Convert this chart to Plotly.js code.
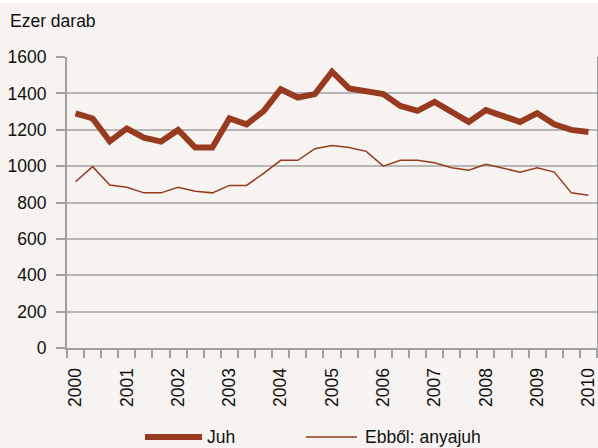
<!DOCTYPE html>
<html>
<head>
<meta charset="utf-8">
<script src="https://cdn.plot.ly/plotly-3.0.1.min.js"></script>
<style>
  html, body { margin: 0; padding: 0; background: #ffffff; }
  #chart { width: 598px; height: 445px; margin-top: 3px; }
</style>
</head>
<body>
<div id="chart"></div>
<script>
// Periods: three per year from 2000 to 2009, plus the first of 2010
const yearLabels = ["2000","2001","2002","2003","2004","2005","2006","2007","2008","2009","2010"];
const periodsPerYear = 3;
const juh = [1290,1262,1136,1207,1157,1135,1199,1102,1102,1262,1230,1303,1423,1377,1396,1519,1427,1409,1396,1331,1304,1353,1295,1243,1308,1273,1243,1291,1230,1199,1188];
const anyajuh = [914,997,896,884,853,853,884,862,853,894,894,960,1032,1032,1096,1114,1102,1081,1000,1032,1032,1019,991,978,1010,988,967,991,967,853,840];
const seriesNames = ["Juh", "Ebből: anyajuh"];
const yUnit = "Ezer darab";

const periodIdx = juh.map((_, i) => i);
const labelVals = yearLabels.map((_, i) => i * periodsPerYear);

const color = "#983a20";
const bg = "#f6f3f0";
const gridCol = "#b6b6b6";
const axisCol = "#a0a0a0";
const fontFam = "'Liberation Sans', Arial, sans-serif";
const fs = 17.5;

const lineWidths = [6, 1.5];
const traces = [juh, anyajuh].map((vals, k) => ({
  x: periodIdx, y: vals, name: seriesNames[k], type: "scatter", mode: "lines",
  line: { color: color, width: lineWidths[k] }, showlegend: false
}));

// plot area geometry in pixels (for legend placement in paper coords)
const plotW = 530, plotH = 291;
const px = v => (v - 67) / plotW;
const py = v => (348 - v) / plotH;

const legendItems = [
  { x0: 145, x1: 202, tx: 205 },
  { x0: 306, x1: 357, tx: 363 }
];
const legendY = 437;
const shapes = legendItems.map((it, k) => ({
  type: "line", xref: "paper", yref: "paper",
  x0: px(it.x0), x1: px(it.x1), y0: py(legendY), y1: py(legendY),
  line: { color: color, width: lineWidths[k] }
}));
const legendTexts = legendItems.map((it, k) => ({
  text: seriesNames[k], xref: "paper", yref: "paper", x: px(it.tx), xanchor: "left",
  y: py(legendY), yanchor: "middle", showarrow: false,
  font: { family: fontFam, size: fs, color: "#111111" }
}));

const xr = [-0.5, juh.length - 0.5];
const layout = {
  width: 598, height: 445,
  margin: { l: 67, r: 1, t: 54, b: 100 },
  paper_bgcolor: bg, plot_bgcolor: bg,
  font: { family: fontFam, size: fs, color: "#111111" },
  showlegend: false,
  xaxis: {
    range: xr, tickmode: "array", tickvals: labelVals, ticktext: yearLabels,
    ticks: "outside", ticklen: 8, tickcolor: "rgba(0,0,0,0)", tickangle: -90,
    ticklabelstandoff: 3, ticklabeloverflow: "allow",
    minor: { tickmode: "linear", tick0: -0.5, dtick: 1, ticks: "outside", ticklen: 8,
             tickwidth: 2, tickcolor: axisCol, showgrid: false },
    showgrid: false, zeroline: false, showline: true, linecolor: axisCol, linewidth: 2,
    tickfont: { family: fontFam, size: fs, color: "#111111" }
  },
  yaxis: {
    range: [0, 1600], tickmode: "linear", tick0: 0, dtick: 200,
    ticks: "outside", ticklen: 9, tickwidth: 2, tickcolor: axisCol,
    ticklabelstandoff: 6,
    showgrid: true, gridcolor: gridCol, gridwidth: 2,
    zeroline: false, showline: true, linecolor: axisCol, linewidth: 2, mirror: true,
    tickfont: { family: fontFam, size: fs, color: "#111111" }
  },
  shapes: shapes,
  annotations: [
    { text: yUnit, xref: "paper", yref: "paper", x: px(8), xanchor: "left",
      y: py(21), yanchor: "middle", showarrow: false,
      font: { family: fontFam, size: fs, color: "#111111" } }
  ].concat(legendTexts)
};

Plotly.newPlot("chart", traces, layout, { displayModeBar: false, staticPlot: true });
</script>
</body>
</html>
